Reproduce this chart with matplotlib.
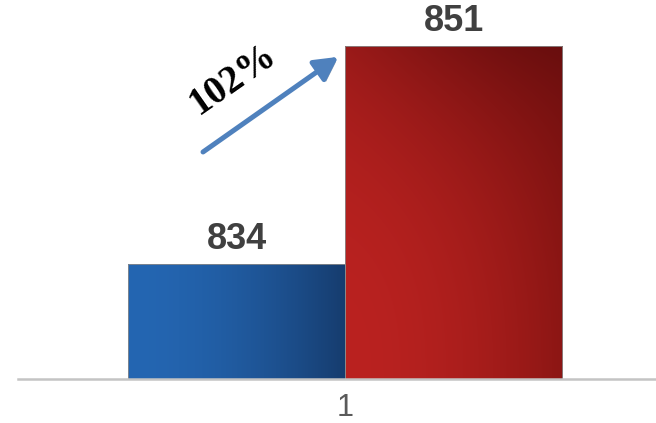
import numpy as np
import matplotlib

matplotlib.use("Agg")
import matplotlib.pyplot as plt
import matplotlib.patheffects as pe

# data
categories = ["1"]
values = [834, 851]
labels = ["834", "851"]
growth_label = "102%"

W, H, DPI = 6.56, 4.23, 100
fig = plt.figure(figsize=(W, H), dpi=DPI)
ax = fig.add_axes([18 / 656, 44 / 423, 638 / 656, 379 / 423])
ax.set_xlim(-0.507, 2.433)
ax.set_ylim(825, 854.6)

# bar gradients (left->right, light->dark)
blue_left = np.array([36, 102, 178]) / 255
blue_right = np.array([22, 60, 110]) / 255
red_mid = np.array([186, 34, 32]) / 255
red_dark = np.array([140, 22, 20]) / 255
red_corner = np.array([105, 14, 14]) / 255


def gradient(c0, c1, corner=None):
    nx, ny = 200, 200
    gx = np.linspace(0, 1, nx)[None, :, None]
    gy = np.linspace(0, 1, ny)[:, None, None]  # row 0 = bottom
    t = gx ** 1.8
    img = c0 * (1 - t) + c1 * t
    if corner is not None:
        s = np.clip((gy ** 2.5) * (0.4 + 0.6 * gx), 0, 1)
        img = img * (1 - s) + corner * s
    return img


xs = [0.5, 1.5]
bars = ax.bar(xs, values, width=1.0, bottom=0, color="none",
              edgecolor="none", zorder=2)
grads = [gradient(blue_left, blue_right), gradient(red_mid, red_dark, red_corner)]
for rect, img in zip(bars, grads):
    x0 = rect.get_x()
    im = ax.imshow(img, extent=(x0, x0 + rect.get_width(), 825, rect.get_height()),
                   origin="lower", aspect="auto", zorder=2, interpolation="bilinear")
    im.set_clip_path(rect)
    ax.bar(rect.get_x() + rect.get_width() / 2, rect.get_height(), width=1.0,
           color="none", edgecolor="#8a8a8a", linewidth=0.6, zorder=3)

for x, v, lab in zip(xs, values, labels):
    ax.annotate(lab, (x, v), xytext=(0, 5), textcoords="offset points",
                ha="center", va="bottom", fontsize=26, fontweight="bold",
                color="#404040", family="Liberation Sans")

ax.set_xticks([1])
ax.set_xticklabels(categories, fontsize=22, color="#5a5a5a", family="Liberation Sans")
ax.tick_params(axis="x", length=0, pad=10)
ax.set_yticks([])
for s in ("top", "right", "left"):
    ax.spines[s].set_visible(False)
ax.spines["bottom"].set_color("#c4c4c4")
ax.spines["bottom"].set_linewidth(1.8)
ax.spines["bottom"].set_zorder(4)

# growth arrow
ax.annotate("", xy=(0.502, 0.850), xytext=(0.290, 0.599),
            xycoords="axes fraction", textcoords="axes fraction",
            arrowprops=dict(arrowstyle="-|>,head_length=1.4,head_width=0.75",
                            color="#4f81bd", lw=3.6, shrinkA=0, shrinkB=0,
                            path_effects=[pe.SimplePatchShadow(offset=(1.5, -1.5),
                                                               alpha=0.35),
                                          pe.Normal()]),
            zorder=5)
ax.text(0.338, 0.792, growth_label, transform=ax.transAxes, rotation=35,
        ha="center", va="center", fontsize=28, fontweight="bold",
        family="Liberation Serif", color="black", rotation_mode="anchor")

fig.savefig("out.png", dpi=DPI, facecolor="white")
